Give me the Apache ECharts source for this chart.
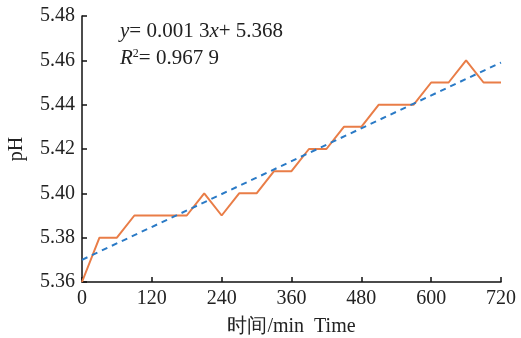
<!DOCTYPE html>
<html><head><meta charset="utf-8">
<script src="https://cdn.jsdelivr.net/npm/echarts@6/dist/echarts.min.js"></script>
<style>html,body{margin:0;padding:0;background:#fff}#c{width:521px;height:338px}</style>
</head><body><div id="c"></div>
<script>
const times = [0,30,60,90,120,150,180,210,240,270,300,330,360,390,420,450,480,510,540,570,600,630,660,690,720];
const phValues = [5.36,5.38,5.38,5.39,5.39,5.39,5.39,5.40,5.39,5.40,5.40,5.41,5.41,5.42,5.42,5.43,5.43,5.44,5.44,5.44,5.45,5.45,5.46,5.45,5.45];
const trendX = [0,720];
const trendY = [5.370,5.459];
const xTicks = [0,120,240,360,480,600,720];
const yTicks = [5.36,5.38,5.40,5.42,5.44,5.46,5.48];

const serif = '"Liberation Serif","DejaVu Serif",serif';
const FS = 20;
const AF = 21;
const chart = echarts.init(document.getElementById('c'));
chart.setOption({
  animation:false,
  backgroundColor:'#fff',
  grid:{left:82,right:20,top:16,bottom:56,containLabel:false,outerBoundsMode:'none'},
  xAxis:{type:'value',min:xTicks[0],max:xTicks[xTicks.length-1],interval:120,
    name:'时间/min  Time',nameLocation:'middle',nameGap:35,
    nameTextStyle:{fontFamily:serif,fontSize:FS,color:'#222'},
    axisLine:{lineStyle:{color:'#111',width:1.5}},
    axisTick:{inside:true,length:5,lineStyle:{color:'#111',width:1.5}},
    axisLabel:{fontFamily:serif,fontSize:FS,color:'#222',margin:7},
    splitLine:{show:false}},
  yAxis:{type:'value',min:yTicks[0],max:yTicks[yTicks.length-1],interval:0.02,
    name:'pH',nameLocation:'middle',nameGap:55,
    nameTextStyle:{fontFamily:serif,fontSize:FS,color:'#222'},
    axisLine:{show:true,lineStyle:{color:'#111',width:1.5}},
    axisTick:{show:true,inside:true,length:5,lineStyle:{color:'#111',width:1.5}},
    axisLabel:{fontFamily:serif,fontSize:FS,color:'#222',margin:7,formatter:v=>v.toFixed(2)},
    splitLine:{show:false}},
  series:[
    {type:'line',data:times.map((t,i)=>[t,phValues[i]]),symbol:'none',
     lineStyle:{color:'#e97d47',width:2}},
    {type:'line',data:trendX.map((t,i)=>[t,trendY[i]]),symbol:'none',
     lineStyle:{color:'#2a7ac6',width:2,type:[6,5]}}
  ],
  graphic:[
    {type:'text',left:120,top:21,style:{
      text:'{i|y}= 0.001 3{i|x}+ 5.368',
      rich:{i:{fontStyle:'italic',fontFamily:serif,fontSize:AF,fill:'#222'}},
      font:AF+'px '+serif,fill:'#222'}},
    {type:'text',left:120,top:48,style:{
      text:'{i|R}{s|2}= 0.967 9',
      rich:{i:{fontStyle:'italic',fontFamily:serif,fontSize:AF,fill:'#222'},
            s:{fontFamily:serif,fontSize:12,fill:'#222',verticalAlign:'top',padding:[0,0,9,0]}},
      font:AF+'px '+serif,fill:'#222'}}
  ]
});
</script></body></html>
